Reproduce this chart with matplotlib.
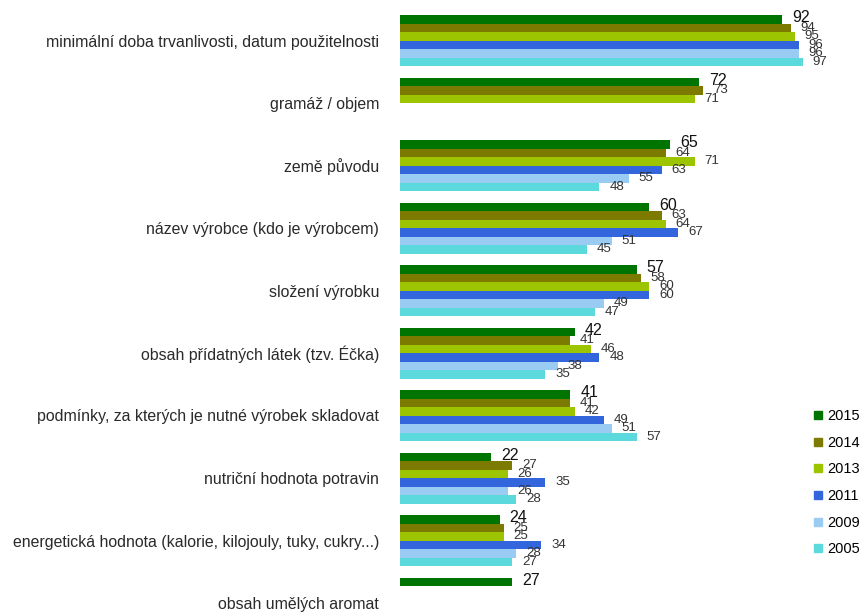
import numpy as np
import matplotlib.pyplot as plt
from matplotlib.lines import Line2D

plt.rcParams['font.family'] = ['Liberation Sans', 'DejaVu Sans']

# kategorie údajů na obalu (shora dolů)
categories = [
    'minimální doba trvanlivosti, datum použitelnosti',
    'gramáž / objem',
    'země původu',
    'název výrobce (kdo je výrobcem)',
    'složení výrobku',
    'obsah přídatných látek (tzv. Éčka)',
    'podmínky, za kterých je nutné výrobek skladovat',
    'nutriční hodnota potravin',
    'energetická hodnota (kalorie, kilojouly, tuky, cukry...)',
    'obsah umělých aromat',
]

years = ['2015', '2014', '2013', '2011', '2009', '2005']
v2015 = [92, 72, 65, 60, 57, 42, 41, 22, 24, 27]
v2014 = [94, 73, 64, 63, 58, 41, 41, 27, 25, None]
v2013 = [95, 71, 71, 64, 60, 46, 42, 26, 25, None]
v2011 = [96, None, 63, 67, 60, 48, 49, 35, 34, None]
v2009 = [96, None, 55, 51, 49, 38, 51, 26, 28, None]
v2005 = [97, None, 48, 45, 47, 35, 57, 28, 27, None]
series = [v2015, v2014, v2013, v2011, v2009, v2005]

colors = ['#007400', '#7d7a00', '#9cc400', '#3366dd', '#9acbf3', '#5cd9dc']

fig = plt.figure(figsize=(8.63, 6.12), dpi=100)
ax = fig.add_axes([400 / 863, 0, 463 / 863, 1])

bar_h = 0.136
y = np.arange(len(categories))
for j, (vals, col) in enumerate(zip(series, colors)):
    vals = np.array([np.nan if v is None else v for v in vals], dtype=float)
    pos = y + (j - 2.5) * bar_h
    ax.barh(pos, vals, height=bar_h, color=col, edgecolor='none')
    for p, v in zip(pos, vals):
        if np.isnan(v):
            continue
        if j == 0:
            ax.annotate(f'{v:.0f}', (v, p), xytext=(7, 1), textcoords='offset points',
                        ha='left', va='center', fontsize=11.5, color='#111111')
        else:
            ax.annotate(f'{v:.0f}', (v, p), xytext=(7, 0), textcoords='offset points',
                        ha='left', va='center', fontsize=9.5, color='#333333')

ax.set_xlim(0, 111.4)
ax.set_ylim((612 - 40.5) / 62.5, -40.5 / 62.5)
ax.set_yticks(y)
ax.set_yticklabels(categories, fontsize=11.4, color='#2a2a2a')
ax.tick_params(axis='y', length=0, pad=15)
ax.set_xticks([])
for s in ax.spines.values():
    s.set_visible(False)

handles = [Line2D([], [], marker='s', linestyle='', markersize=5.5, color=c) for c in colors]
fig.legend(handles, years, loc='upper left', bbox_to_anchor=(813 / 863, 1 - 409 / 612),
           frameon=False, fontsize=10.5, handlelength=0.7, handletextpad=0.3,
           labelspacing=0.87, borderpad=0, borderaxespad=0)

fig.savefig('out.png', dpi=100)
